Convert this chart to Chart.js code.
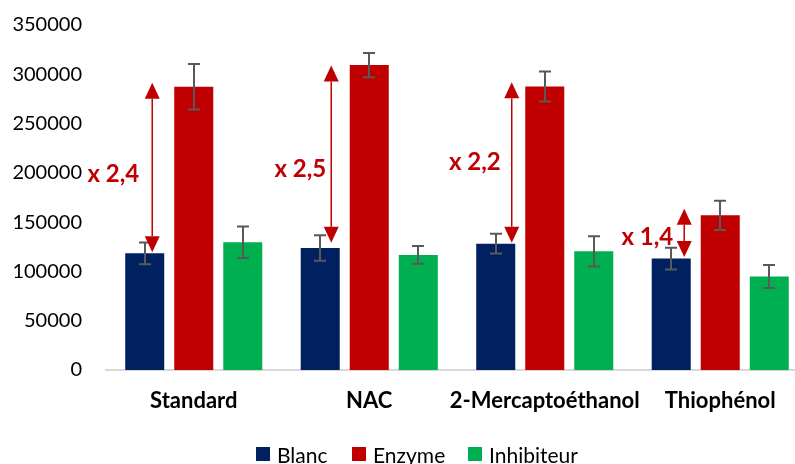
<!DOCTYPE html>
<html>
<head>
<meta charset="utf-8">
<script src="https://cdn.jsdelivr.net/npm/chart.js@4"></script>
<style>
  html, body { margin: 0; padding: 0; background: #fff; overflow: hidden; }
  #wrap { position: relative; width: 815px; height: 464px; }
  #legend { position: absolute; top: 442px; left: 0; width: 815px; height: 24px; font-family: Lato, sans-serif; font-size: 21px; color: #000; }
  #legend .item { position: absolute; top: 0; display: flex; align-items: center; height: 24px; white-space: nowrap; }
  #legend .sw { width: 14px; height: 14px; margin-right: 7px; }
</style>
</head>
<body>
<div id="wrap">
  <canvas id="c" width="815" height="464"></canvas>
  <div id="legend"></div>
</div>
<script>
// ---- data ----
const categories = ["Standard", "NAC", "2-Mercaptoéthanol", "Thiophénol"];
const seriesNames = ["Blanc", "Enzyme", "Inhibiteur"];
const blanc = [118400, 123800, 128200, 113000];
const enzyme = [287400, 309400, 287700, 156900];
const inhibiteur = [129500, 116700, 120400, 94800];
const blancErr = [11000, 13000, 10000, 11000];
const enzymeErr = [23000, 12300, 15200, 14800];
const inhibiteurErr = [16000, 9000, 15300, 11600];
const foldLabels = ["x 2,4", "x 2,5", "x 2,2", "x 1,4"];
const arrowLow = [119400, 129000, 129200, 114700];
const arrowHigh = [291500, 309000, 291800, 163600];
const foldLabelAt = [198400, 203400, 210500, 134300];
const yTicks = [0, 50000, 100000, 150000, 200000, 250000, 300000, 350000];

const colors = ["#002060", "#C00000", "#00B050"];
const errs = [blancErr, enzymeErr, inhibiteurErr];

// legend
const legendLeft = [256, 352, 468];
const lg = document.getElementById('legend');
seriesNames.forEach((n, i) => {
  const it = document.createElement('div');
  it.className = 'item';
  it.style.left = legendLeft[i] + 'px';
  const sw = document.createElement('div');
  sw.className = 'sw';
  sw.style.background = colors[i];
  const t = document.createElement('span');
  t.textContent = n;
  it.appendChild(sw); it.appendChild(t);
  lg.appendChild(it);
});

const overlay = {
  id: 'overlay',
  afterDatasetsDraw(chart) {
    const ctx = chart.ctx;
    const y = chart.scales.y;
    // error bars
    ctx.save();
    ctx.strokeStyle = '#595959';
    ctx.lineWidth = 2;
    chart.data.datasets.forEach((ds, di) => {
      const meta = chart.getDatasetMeta(di);
      meta.data.forEach((bar, i) => {
        const v = ds.data[i], e = errs[di][i];
        const yt = y.getPixelForValue(v + e), yb = y.getPixelForValue(v - e);
        const x = Math.round(bar.x);
        ctx.beginPath();
        ctx.moveTo(x, yt); ctx.lineTo(x, yb);
        ctx.moveTo(x - 6, yt); ctx.lineTo(x + 6, yt);
        ctx.moveTo(x - 6, yb); ctx.lineTo(x + 6, yb);
        ctx.stroke();
      });
    });
    ctx.restore();
    // fold arrows
    const arrowOff = [7.5, 11, 16, 13];
    const labelGap = [13, 5, 11, 11];
    const bmeta = chart.getDatasetMeta(0);
    ctx.save();
    ctx.strokeStyle = '#C00000';
    ctx.fillStyle = '#C00000';
    ctx.lineWidth = 1.5;
    categories.forEach((c, i) => {
      const x = bmeta.data[i].x + arrowOff[i];
      const yTop = y.getPixelForValue(arrowHigh[i]);
      const yBot = y.getPixelForValue(arrowLow[i]);
      const hh = 16, hw = 7.5;
      ctx.beginPath();
      ctx.moveTo(x, yTop + hh); ctx.lineTo(x, yBot - hh);
      ctx.stroke();
      ctx.beginPath();
      ctx.moveTo(x, yTop); ctx.lineTo(x - hw, yTop + hh); ctx.lineTo(x + hw, yTop + hh); ctx.closePath();
      ctx.fill();
      ctx.beginPath();
      ctx.moveTo(x, yBot); ctx.lineTo(x - hw, yBot - hh); ctx.lineTo(x + hw, yBot - hh); ctx.closePath();
      ctx.fill();
      ctx.font = 'bold 24px Lato';
      ctx.textAlign = 'right';
      ctx.textBaseline = 'middle';
      ctx.fillText(foldLabels[i], x - labelGap[i], y.getPixelForValue(foldLabelAt[i]));
    });
    ctx.restore();
  }
};

new Chart(document.getElementById('c'), {
  type: 'bar',
  data: {
    labels: categories,
    datasets: [
      { label: seriesNames[0], data: blanc, backgroundColor: colors[0] },
      { label: seriesNames[1], data: enzyme, backgroundColor: colors[1] },
      { label: seriesNames[2], data: inhibiteur, backgroundColor: colors[2] }
    ]
  },
  options: {
    responsive: false,
    animation: false,
    events: [],
    layout: { padding: { top: 25, right: 7, bottom: 0, left: 0 } },
    datasets: { bar: { categoryPercentage: 0.838, barPercentage: 0.796 } },
    plugins: { legend: { display: false }, tooltip: { enabled: false } },
    scales: {
      x: {
        grid: { display: false, drawTicks: false },
        border: { display: true, color: '#D9D9D9', width: 2 },
        ticks: { color: '#000', font: { family: 'Lato', size: 22, weight: 'bold' }, padding: 18, maxRotation: 0, autoSkip: false },
        afterFit(s) { s.height = 94; }
      },
      y: {
        min: 0, max: 350000,
        grid: { display: false, drawTicks: false },
        border: { display: false },
        afterBuildTicks(s) { s.ticks = yTicks.map(v => ({ value: v })); },
        ticks: { color: '#000', font: { family: 'Lato', size: 20 }, padding: 24, callback: v => String(v) },
        afterFit(s) { s.width = 106; s.paddingTop = 0; s.paddingBottom = 0; }
      }
    }
  },
  plugins: [overlay]
});
</script>
</body>
</html>
